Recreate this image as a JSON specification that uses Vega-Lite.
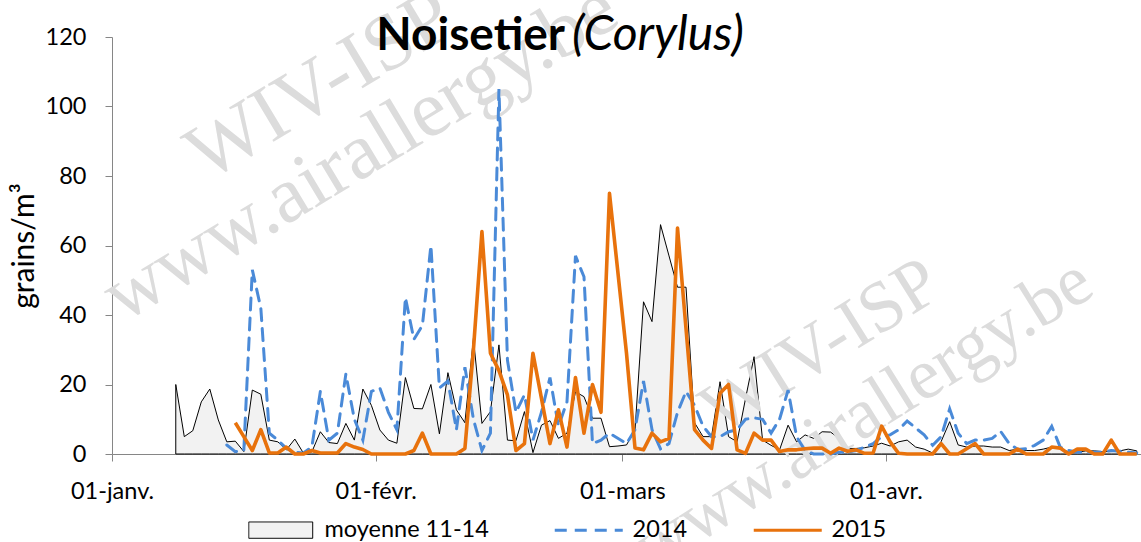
{
  "$schema": "https://vega.github.io/schema/vega-lite/v6.json",
  "width": 1029,
  "height": 417,
  "autosize": {"type": "none"},
  "padding": {"left": 112, "top": 37, "right": 0, "bottom": 88},
  "background": "#ffffff",
  "config": {
    "view": {"stroke": null},
    "font": "Lato",
    "axis": {"grid": false, "domainColor": "#868686", "tickColor": "#868686", "domainWidth": 1, "tickWidth": 1, "tickSize": 7, "labelFont": "Lato", "labelFontSize": 23.5, "labelColor": "#000000", "titleFont": "Lato", "titleColor": "#000000"}
  },
  "data": {"values": [
    {"jour":"2012-01-08T12:00Z","moyenne 11-14":20},
    {"jour":"2012-01-09T12:00Z","moyenne 11-14":5},
    {"jour":"2012-01-10T12:00Z","moyenne 11-14":6.7},
    {"jour":"2012-01-11T12:00Z","moyenne 11-14":15},
    {"jour":"2012-01-12T12:00Z","moyenne 11-14":18.7},
    {"jour":"2012-01-13T12:00Z","moyenne 11-14":9.8},
    {"jour":"2012-01-14T12:00Z","moyenne 11-14":3.5,"2014":2.6},
    {"jour":"2012-01-15T12:00Z","moyenne 11-14":3.7,"2014":0.7,"2015":9},
    {"jour":"2012-01-16T12:00Z","moyenne 11-14":0.7,"2014":1,"2015":5},
    {"jour":"2012-01-17T12:00Z","moyenne 11-14":18.4,"2014":53,"2015":1},
    {"jour":"2012-01-18T12:00Z","moyenne 11-14":17.2,"2014":42,"2015":7},
    {"jour":"2012-01-19T12:00Z","moyenne 11-14":4,"2014":6,"2015":0.3},
    {"jour":"2012-01-20T12:00Z","moyenne 11-14":3.5,"2014":4,"2015":0.3},
    {"jour":"2012-01-21T12:00Z","moyenne 11-14":1.2,"2014":1.6,"2015":2},
    {"jour":"2012-01-22T12:00Z","moyenne 11-14":4.3,"2014":0.5,"2015":0},
    {"jour":"2012-01-23T12:00Z","moyenne 11-14":0.3,"2014":0.3,"2015":0},
    {"jour":"2012-01-24T12:00Z","moyenne 11-14":0.6,"2014":2,"2015":1},
    {"jour":"2012-01-25T12:00Z","moyenne 11-14":6.4,"2014":18,"2015":0.3},
    {"jour":"2012-01-26T12:00Z","moyenne 11-14":3.3,"2014":4,"2015":0.3},
    {"jour":"2012-01-27T12:00Z","moyenne 11-14":3,"2014":6,"2015":0.3},
    {"jour":"2012-01-28T12:00Z","moyenne 11-14":8.8,"2014":23,"2015":3},
    {"jour":"2012-01-29T12:00Z","moyenne 11-14":4,"2014":10,"2015":2},
    {"jour":"2012-01-30T12:00Z","moyenne 11-14":18.7,"2014":4,"2015":1.3},
    {"jour":"2012-01-31T12:00Z","moyenne 11-14":14,"2014":18,"2015":0},
    {"jour":"2012-02-01T12:00Z","moyenne 11-14":6.9,"2014":19,"2015":0},
    {"jour":"2012-02-02T12:00Z","moyenne 11-14":4,"2014":12,"2015":0},
    {"jour":"2012-02-03T12:00Z","moyenne 11-14":3.1,"2014":7,"2015":0},
    {"jour":"2012-02-04T12:00Z","moyenne 11-14":22,"2014":45,"2015":0},
    {"jour":"2012-02-05T12:00Z","moyenne 11-14":13.1,"2014":33,"2015":1},
    {"jour":"2012-02-06T12:00Z","moyenne 11-14":13,"2014":37,"2015":6},
    {"jour":"2012-02-07T12:00Z","moyenne 11-14":20,"2014":60,"2015":0},
    {"jour":"2012-02-08T12:00Z","moyenne 11-14":5.8,"2014":19,"2015":0},
    {"jour":"2012-02-09T12:00Z","moyenne 11-14":23.4,"2014":21,"2015":0},
    {"jour":"2012-02-10T12:00Z","moyenne 11-14":12.7,"2014":7,"2015":0},
    {"jour":"2012-02-11T12:00Z","moyenne 11-14":9,"2014":25,"2015":1.6},
    {"jour":"2012-02-12T12:00Z","moyenne 11-14":33.3,"2014":10,"2015":30},
    {"jour":"2012-02-13T12:00Z","moyenne 11-14":8.8,"2014":1,"2015":64},
    {"jour":"2012-02-14T12:00Z","moyenne 11-14":12.2,"2014":6,"2015":29},
    {"jour":"2012-02-15T12:00Z","moyenne 11-14":31.4,"2014":105,"2015":24},
    {"jour":"2012-02-16T12:00Z","moyenne 11-14":4,"2014":27,"2015":17},
    {"jour":"2012-02-17T12:00Z","moyenne 11-14":3.8,"2014":12,"2015":1},
    {"jour":"2012-02-18T12:00Z","moyenne 11-14":12.2,"2014":17,"2015":3},
    {"jour":"2012-02-19T12:00Z","moyenne 11-14":0.4,"2014":4,"2015":29},
    {"jour":"2012-02-20T12:00Z","moyenne 11-14":8.3,"2014":12,"2015":16},
    {"jour":"2012-02-21T12:00Z","moyenne 11-14":9.6,"2014":22,"2015":3},
    {"jour":"2012-02-22T12:00Z","moyenne 11-14":4.5,"2014":8,"2015":12.7},
    {"jour":"2012-02-23T12:00Z","moyenne 11-14":6,"2014":15,"2015":2},
    {"jour":"2012-02-24T12:00Z","moyenne 11-14":17.9,"2014":57,"2015":22},
    {"jour":"2012-02-25T12:00Z","moyenne 11-14":16.5,"2014":51,"2015":6},
    {"jour":"2012-02-26T12:00Z","moyenne 11-14":10.3,"2014":3,"2015":20},
    {"jour":"2012-02-27T12:00Z","moyenne 11-14":10.3,"2014":4,"2015":12},
    {"jour":"2012-02-28T12:00Z","moyenne 11-14":2.1,"2014":6,"2015":75},
    {"jour":"2012-02-29T12:00Z","moyenne 11-14":2.3},
    {"jour":"2012-03-01T12:00Z","moyenne 11-14":2.6,"2014":3,"2015":29},
    {"jour":"2012-03-02T12:00Z","moyenne 11-14":6.9,"2014":7,"2015":1.7},
    {"jour":"2012-03-03T12:00Z","moyenne 11-14":43.8,"2014":21,"2015":1.2},
    {"jour":"2012-03-04T12:00Z","moyenne 11-14":38.1,"2014":7,"2015":6},
    {"jour":"2012-03-05T12:00Z","moyenne 11-14":66,"2014":1.5,"2015":3.5},
    {"jour":"2012-03-06T12:00Z","moyenne 11-14":57,"2014":3,"2015":4.5},
    {"jour":"2012-03-07T12:00Z","moyenne 11-14":48,"2014":12,"2015":65},
    {"jour":"2012-03-08T12:00Z","moyenne 11-14":48,"2014":18,"2015":36},
    {"jour":"2012-03-09T12:00Z","moyenne 11-14":9,"2014":14,"2015":7},
    {"jour":"2012-03-10T12:00Z","moyenne 11-14":5,"2014":8,"2015":4},
    {"jour":"2012-03-11T12:00Z","moyenne 11-14":5,"2014":5,"2015":1.6},
    {"jour":"2012-03-12T12:00Z","moyenne 11-14":20.8,"2014":5,"2015":17.5},
    {"jour":"2012-03-13T12:00Z","moyenne 11-14":5,"2014":6.4,"2015":20},
    {"jour":"2012-03-14T12:00Z","moyenne 11-14":3.5,"2014":7,"2015":1.2},
    {"jour":"2012-03-15T12:00Z","moyenne 11-14":16,"2014":10,"2015":0.2},
    {"jour":"2012-03-16T12:00Z","moyenne 11-14":28,"2014":10.4,"2015":6},
    {"jour":"2012-03-17T12:00Z","moyenne 11-14":4,"2014":10,"2015":4},
    {"jour":"2012-03-18T12:00Z","moyenne 11-14":2.5,"2014":6,"2015":4},
    {"jour":"2012-03-19T12:00Z","moyenne 11-14":1.2,"2014":10,"2015":0.7},
    {"jour":"2012-03-20T12:00Z","moyenne 11-14":8.3,"2014":18.4,"2015":1.2},
    {"jour":"2012-03-21T12:00Z","moyenne 11-14":3.5,"2014":5,"2015":1.2},
    {"jour":"2012-03-22T12:00Z","moyenne 11-14":5.5,"2014":1,"2015":1.5},
    {"jour":"2012-03-23T12:00Z","moyenne 11-14":4.5,"2014":0,"2015":1.7},
    {"jour":"2012-03-24T12:00Z","moyenne 11-14":6.4,"2014":0,"2015":1.7},
    {"jour":"2012-03-25T12:00Z","moyenne 11-14":6.3,"2014":0,"2015":0.2},
    {"jour":"2012-03-26T12:00Z","moyenne 11-14":4.5,"2014":0.5,"2015":1.7},
    {"jour":"2012-03-27T12:00Z","moyenne 11-14":1.6,"2014":0.5,"2015":0.8},
    {"jour":"2012-03-28T12:00Z","moyenne 11-14":1.6,"2014":1,"2015":1.2},
    {"jour":"2012-03-29T12:00Z","moyenne 11-14":1.8,"2014":2,"2015":0.2},
    {"jour":"2012-03-30T12:00Z","moyenne 11-14":2.3,"2014":3,"2015":0.3},
    {"jour":"2012-03-31T12:00Z","moyenne 11-14":3.1,"2014":5,"2015":8},
    {"jour":"2012-04-01T12:00Z","moyenne 11-14":2.3,"2014":5.5,"2015":3.5},
    {"jour":"2012-04-02T12:00Z","moyenne 11-14":3.5,"2014":7,"2015":0.2},
    {"jour":"2012-04-03T12:00Z","moyenne 11-14":4,"2014":9.5,"2015":0},
    {"jour":"2012-04-04T12:00Z","moyenne 11-14":2,"2014":7.5,"2015":0},
    {"jour":"2012-04-05T12:00Z","moyenne 11-14":1.4,"2014":5.5,"2015":0},
    {"jour":"2012-04-06T12:00Z","moyenne 11-14":0.3,"2014":2.5,"2015":0},
    {"jour":"2012-04-07T12:00Z","moyenne 11-14":3.6,"2014":5,"2015":3},
    {"jour":"2012-04-08T12:00Z","moyenne 11-14":9.3,"2014":13,"2015":0},
    {"jour":"2012-04-09T12:00Z","moyenne 11-14":2.6,"2014":6,"2015":0},
    {"jour":"2012-04-10T12:00Z","moyenne 11-14":2,"2014":3,"2015":1.5},
    {"jour":"2012-04-11T12:00Z","moyenne 11-14":2.3,"2014":4,"2015":3},
    {"jour":"2012-04-12T12:00Z","moyenne 11-14":2.3,"2014":4,"2015":0},
    {"jour":"2012-04-13T12:00Z","moyenne 11-14":2,"2014":4.5,"2015":0},
    {"jour":"2012-04-14T12:00Z","moyenne 11-14":2,"2014":6.5,"2015":0},
    {"jour":"2012-04-15T12:00Z","moyenne 11-14":1,"2014":3,"2015":0},
    {"jour":"2012-04-16T12:00Z","moyenne 11-14":1.4,"2014":1.3,"2015":1.4},
    {"jour":"2012-04-17T12:00Z","moyenne 11-14":1,"2014":1.5,"2015":0},
    {"jour":"2012-04-18T12:00Z","moyenne 11-14":1,"2014":2.5,"2015":0},
    {"jour":"2012-04-19T12:00Z","moyenne 11-14":1.4,"2014":4,"2015":0},
    {"jour":"2012-04-20T12:00Z","moyenne 11-14":2,"2014":8,"2015":2},
    {"jour":"2012-04-21T12:00Z","moyenne 11-14":1.7,"2014":2,"2015":1.7},
    {"jour":"2012-04-22T12:00Z","moyenne 11-14":0.5,"2014":1,"2015":0},
    {"jour":"2012-04-23T12:00Z","moyenne 11-14":0.5,"2014":0.5,"2015":1.4},
    {"jour":"2012-04-24T12:00Z","moyenne 11-14":0.9,"2014":0.5,"2015":1.4},
    {"jour":"2012-04-25T12:00Z","moyenne 11-14":0.9,"2014":0.5,"2015":0},
    {"jour":"2012-04-26T12:00Z","moyenne 11-14":0.7,"2014":0.5,"2015":0},
    {"jour":"2012-04-27T12:00Z","moyenne 11-14":0.7,"2014":1,"2015":4},
    {"jour":"2012-04-28T12:00Z","moyenne 11-14":0.9,"2014":0.8,"2015":0},
    {"jour":"2012-04-29T12:00Z","moyenne 11-14":1.4,"2014":0.5,"2015":0},
    {"jour":"2012-04-30T12:00Z","moyenne 11-14":0.9,"2014":0.3,"2015":0}
  ]},
  "layer": [
    {
      "transform": [
        {"fold": ["moyenne 11-14", "2014", "2015"], "as": ["serie", "v"]},
        {"filter": "isValid(datum.v)"},
        {"filter": "datum.serie === 'moyenne 11-14'"}
      ],
      "mark": {"type": "area", "fill": "#f2f2f2", "strokeWidth": 1, "interpolate": "linear"},
      "encoding": {
        "x": {
          "field": "jour", "type": "temporal",
          "scale": {"type": "utc", "nice": false, "domain": [{"year": 2012, "month": 1, "date": 1, "utc": true}, {"year": 2012, "month": 5, "date": 1, "utc": true}]},
          "axis": {
            "title": null,
            "values": [{"year": 2012, "month": 1, "date": 1, "utc": true}, {"year": 2012, "month": 2, "date": 1, "utc": true}, {"year": 2012, "month": 3, "date": 1, "utc": true}, {"year": 2012, "month": 4, "date": 1, "utc": true}],
            "labelExpr": "utcFormat(datum.value, '%d') + '-' + ['janv.', 'févr.', 'mars', 'avr.', 'mai'][utcmonth(datum.value)]",
            "labelPadding": 18, "labelFlush": false, "labelOverlap": false
          }
        },
        "y": {
          "field": "v", "type": "quantitative",
          "scale": {"domain": [0, 120], "nice": false},
          "axis": {"values": [0, 20, 40, 60, 80, 100, 120], "title": "grains/m³", "titleFontSize": 30, "titleFontWeight": "normal", "labelPadding": 19, "titlePadding": 6}
        },
        "stroke": {
          "field": "serie", "type": "nominal",
          "scale": {"domain": ["moyenne 11-14", "2014", "2015"], "range": ["#000000", "#4a8ad8", "#e8720c"]},
          "legend": {
            "title": null, "orient": "none", "legendX": 157, "legendY": 481, "direction": "horizontal",
            "symbolSize": 4624, "symbolStrokeWidth": 3,
            "labelFont": "Lato", "labelFontSize": 23.5, "labelColor": "#000000", "labelOffset": 32, "labelLimit": 400,
            "columnPadding": 59,
            "encode": {"symbols": {"update": {
              "shape": {"signal": "datum.value === 'moyenne 11-14' ? 'M-0.94,-0.24H0.94V0.24H-0.94Z' : 'stroke'"},
              "fill": {"signal": "datum.value === 'moyenne 11-14' ? '#f2f2f2' : 'transparent'"},
              "strokeWidth": {"signal": "datum.value === 'moyenne 11-14' ? 1 : 3"},
              "strokeDash": {"signal": "datum.value === '2014' ? [12, 8] : [1, 0]"},
              "opacity": {"value": 1}
            }}}
          }
        }
      }
    },
    {
      "data": {"values": [{"t": "WIV-ISP\nwww.airallergy.be"}]},
      "mark": {"type": "text", "font": "Liberation Serif", "fontSize": 80, "lineBreak": "\n", "lineHeight": 78, "align": "center", "baseline": "middle", "angle": -31, "color": "#dcdcdc"},
      "encoding": {
        "text": {"field": "t"},
        "x": {"datum": {"year": 2012, "month": 1, "date": 25, "hours": 12, "utc": true}, "type": "temporal"},
        "y": {"datum": 106, "type": "quantitative"}
      }
    },
    {
      "data": {"values": [{"t": "WIV-ISP\nwww.airallergy.be"}]},
      "mark": {"type": "text", "font": "Liberation Serif", "fontSize": 72, "lineBreak": "\n", "lineHeight": 80, "align": "center", "baseline": "middle", "angle": -32, "color": "#dcdcdc"},
      "encoding": {
        "text": {"field": "t"},
        "x": {"datum": {"year": 2012, "month": 3, "date": 24, "hours": 8, "utc": true}, "type": "temporal"},
        "y": {"datum": 31, "type": "quantitative"}
      }
    },
    {
      "transform": [
        {"fold": ["moyenne 11-14", "2014", "2015"], "as": ["serie", "v"]},
        {"filter": "isValid(datum.v)"},
        {"filter": "datum.serie !== 'moyenne 11-14'"}
      ],
      "encoding": {
        "x": {"field": "jour", "type": "temporal"},
        "y": {"field": "v", "type": "quantitative"},
        "stroke": {
          "field": "serie", "type": "nominal",
          "legend": {
            "title": null, "orient": "none", "legendX": 157, "legendY": 481, "direction": "horizontal",
            "symbolSize": 4624, "symbolStrokeWidth": 3,
            "labelFont": "Lato", "labelFontSize": 23.5, "labelColor": "#000000", "labelOffset": 32, "labelLimit": 400,
            "columnPadding": 59,
            "encode": {"symbols": {"update": {
              "shape": {"signal": "datum.value === 'moyenne 11-14' ? 'M-0.94,-0.24H0.94V0.24H-0.94Z' : 'stroke'"},
              "fill": {"signal": "datum.value === 'moyenne 11-14' ? '#f2f2f2' : 'transparent'"},
              "strokeWidth": {"signal": "datum.value === 'moyenne 11-14' ? 1 : 3"},
              "strokeDash": {"signal": "datum.value === '2014' ? [12, 8] : [1, 0]"},
              "opacity": {"value": 1}
            }}}
          }
        }
      },
      "layer": [
        {
          "transform": [{"filter": "datum.serie === '2014'"}],
          "mark": {"type": "line", "strokeWidth": 3, "strokeDash": [12, 8], "strokeCap": "round"}
        },
        {
          "transform": [{"filter": "datum.serie === '2015'"}],
          "mark": {"type": "line", "strokeWidth": 3.6, "strokeJoin": "round"}
        }
      ]
    },
    {
      "data": {"values": [{"t": "Noisetier"}]},
      "mark": {"type": "text", "font": "Lato", "fontSize": 46, "fontWeight": "bold", "align": "right", "baseline": "alphabetic", "color": "#000000"},
      "encoding": {
        "text": {"field": "t"},
        "x": {"datum": {"year": 2012, "month": 2, "date": 23, "hours": 6, "minutes": 30, "utc": true}, "type": "temporal"},
        "y": {"datum": 116.3, "type": "quantitative"}
      }
    },
    {
      "data": {"values": [{"t": "(Corylus)"}]},
      "mark": {"type": "text", "font": "Lato", "fontSize": 48, "fontStyle": "italic", "fontWeight": "normal", "align": "left", "baseline": "alphabetic", "color": "#000000"},
      "encoding": {
        "text": {"field": "t"},
        "x": {"datum": {"year": 2012, "month": 2, "date": 24, "hours": 2, "minutes": 10, "utc": true}, "type": "temporal"},
        "y": {"datum": 116.3, "type": "quantitative"}
      }
    }
  ]
}
